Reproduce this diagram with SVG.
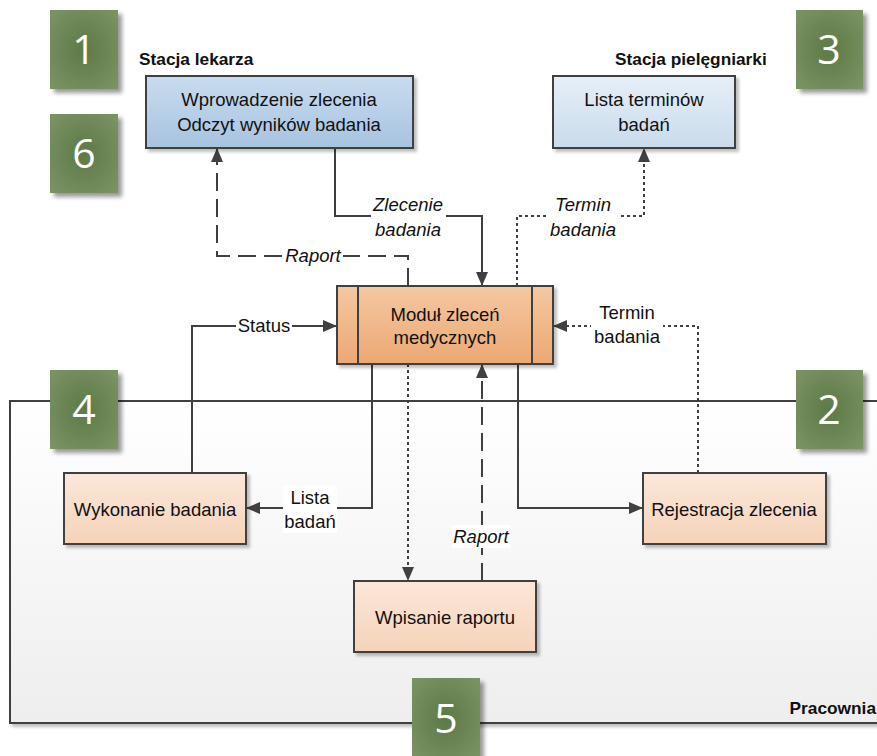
<svg xmlns="http://www.w3.org/2000/svg" width="877" height="756" viewBox="0 0 877 756">
  <style>
    text { font-family: "Liberation Sans", Arial, sans-serif; fill: #111; }
    .t { font-size: 18.5px; text-anchor: middle; }
    .it { font-size: 18.5px; font-style: italic; text-anchor: middle; }
    .title { font-size: 17.3px; font-weight: bold; }
    .num { font-family: "Open Sans", "Liberation Sans", sans-serif; font-size: 41px; fill: #fff; text-anchor: middle; }
    .box { stroke: #404040; stroke-width: 2; }
    .ln { fill: none; stroke: #404040; stroke-width: 2; }
    .dash { stroke-dasharray: 18 8; }
    .dot { stroke-dasharray: 3 3; }
    .bg { fill: #fff; }
  </style>
  <defs>
    <linearGradient id="gDoc" x1="0" y1="0" x2="0" y2="1">
      <stop offset="0" stop-color="#c9dcef"/>
      <stop offset="1" stop-color="#a7c3df"/>
    </linearGradient>
    <linearGradient id="gNurse" x1="0" y1="0" x2="0" y2="1">
      <stop offset="0" stop-color="#e6eff8"/>
      <stop offset="1" stop-color="#c9dbec"/>
    </linearGradient>
    <linearGradient id="gMain" x1="0" y1="0" x2="0" y2="1">
      <stop offset="0" stop-color="#f4c8a2"/>
      <stop offset="1" stop-color="#eca872"/>
    </linearGradient>
    <linearGradient id="gTask" x1="0" y1="0" x2="0" y2="1">
      <stop offset="0" stop-color="#fbe7d9"/>
      <stop offset="1" stop-color="#f5d3b9"/>
    </linearGradient>
    <linearGradient id="gArea" x1="0" y1="0" x2="0" y2="1">
      <stop offset="0" stop-color="#ffffff"/>
      <stop offset="1" stop-color="#eeeeee"/>
    </linearGradient>
    <radialGradient id="gBadge" cx="0.5" cy="0.5" r="0.7">
      <stop offset="0" stop-color="#5d7947"/>
      <stop offset="1" stop-color="#7b9563"/>
    </radialGradient>
    <filter id="sh" x="-10%" y="-10%" width="130%" height="140%">
      <feDropShadow dx="3" dy="3" stdDeviation="1.5" flood-color="#000" flood-opacity="0.25"/>
    </filter>
    <filter id="shB" x="-20%" y="-20%" width="150%" height="150%">
      <feDropShadow dx="4" dy="4" stdDeviation="2" flood-color="#000" flood-opacity="0.4"/>
    </filter>
    <marker id="arr" viewBox="0 0 14 12" refX="14" refY="6" markerWidth="14" markerHeight="12" markerUnits="userSpaceOnUse" orient="auto">
      <path d="M0,0 L14,6 L0,12 Z" fill="#404040"/>
    </marker>
  </defs>

  <!-- Lab area (Pracownia) -->
  <g id="pracownia">
    <rect x="10" y="401" width="900" height="322" fill="url(#gArea)" stroke="#404040" stroke-width="2" filter="url(#sh)"/>
    <text class="title" x="876" y="714" text-anchor="end">Pracownia</text>
  </g>

  <!-- Station titles -->
  <text class="title" x="139" y="65">Stacja lekarza</text>
  <text class="title" x="615" y="65">Stacja pielęgniarki</text>

  <!-- Connectors -->
  <g id="connectors">
    <!-- Zlecenie badania -->
    <path class="ln" d="M335,148 V216 H482 V286" marker-end="url(#arr)"/>
    <!-- Raport to doctor -->
    <path class="ln dash" d="M408,286 V256 H217 V148" marker-end="url(#arr)"/>
    <!-- Termin badania to nurse -->
    <path class="ln dot" d="M517,286 V216 H644 V148" marker-end="url(#arr)"/>
    <!-- Status -->
    <path class="ln" d="M192,473 V326 H337" marker-end="url(#arr)"/>
    <!-- Termin badania from registration -->
    <path class="ln dot" d="M698,473 V326 H553" marker-end="url(#arr)"/>
    <!-- Lista badań -->
    <path class="ln" d="M372,364 V508 H246" marker-end="url(#arr)"/>
    <!-- to registration -->
    <path class="ln" d="M518,364 V508 H643" marker-end="url(#arr)"/>
    <!-- to report entry -->
    <path class="ln dot" d="M408,364 V581" marker-end="url(#arr)"/>
    <!-- Raport from report entry -->
    <path class="ln dash" d="M482,581 V364" marker-end="url(#arr)"/>

    <!-- labels -->
    <rect class="bg" x="371" y="190" width="75" height="48"/>
    <text class="it" x="408" y="211">Zlecenie</text>
    <text class="it" x="408" y="236">badania</text>

    <rect class="bg" x="549" y="190" width="70" height="48"/>
    <text class="it" x="583" y="211">Termin</text>
    <text class="it" x="583" y="236">badania</text>

    <rect class="bg" x="283" y="245" width="60" height="22"/>
    <text class="it" x="313" y="262">Raport</text>

    <rect class="bg" x="236" y="315" width="56" height="22"/>
    <text class="t" x="264" y="332">Status</text>

    <rect class="bg" x="591" y="300" width="72" height="48"/>
    <text class="t" x="627" y="319">Termin</text>
    <text class="t" x="627" y="343">badania</text>

    <rect class="bg" x="283" y="485" width="54" height="48"/>
    <text class="t" x="310" y="504">Lista</text>
    <text class="t" x="310" y="528">badań</text>

    <rect class="bg" x="452" y="525" width="59" height="23"/>
    <text class="it" x="481" y="543">Raport</text>
  </g>

  <!-- Nodes -->
  <g id="node-lekarz">
    <rect class="box" x="146" y="76" width="267" height="72" fill="url(#gDoc)" filter="url(#sh)"/>
    <text class="t" x="279" y="106">Wprowadzenie zlecenia</text>
    <text class="t" x="279" y="131">Odczyt wyników badania</text>
  </g>
  <g id="node-pielegniarka">
    <rect class="box" x="553" y="76" width="182" height="72" fill="url(#gNurse)" filter="url(#sh)"/>
    <text class="t" x="644" y="106">Lista terminów</text>
    <text class="t" x="644" y="131">badań</text>
  </g>
  <g id="node-modul">
    <rect class="box" x="337" y="286" width="216" height="78" fill="url(#gMain)" filter="url(#sh)"/>
    <line class="ln" x1="358" y1="286" x2="358" y2="364"/>
    <line class="ln" x1="532" y1="286" x2="532" y2="364"/>
    <text class="t" x="445" y="321">Moduł zleceń</text>
    <text class="t" x="445" y="344">medycznych</text>
  </g>
  <g id="node-wykonanie">
    <rect class="box" x="64" y="473" width="182" height="71" fill="url(#gTask)" filter="url(#sh)"/>
    <text class="t" x="155" y="516">Wykonanie badania</text>
  </g>
  <g id="node-rejestracja">
    <rect class="box" x="643" y="473" width="183" height="71" fill="url(#gTask)" filter="url(#sh)"/>
    <text class="t" x="734" y="516">Rejestracja zlecenia</text>
  </g>
  <g id="node-raport">
    <rect class="box" x="354" y="581" width="182" height="71" fill="url(#gTask)" filter="url(#sh)"/>
    <text class="t" x="445" y="624">Wpisanie raportu</text>
  </g>

  <!-- Numbered badges -->
  <g id="badge-1"><rect x="50" y="10" width="68" height="79" fill="url(#gBadge)" filter="url(#shB)"/><text class="num" x="84" y="64">1</text></g>
  <g id="badge-6"><rect x="50" y="114" width="68" height="79" fill="url(#gBadge)" filter="url(#shB)"/><text class="num" x="84" y="168">6</text></g>
  <g id="badge-3"><rect x="796" y="10" width="67" height="79" fill="url(#gBadge)" filter="url(#shB)"/><text class="num" x="829" y="64">3</text></g>
  <g id="badge-4"><rect x="50" y="370" width="68" height="79" fill="url(#gBadge)" filter="url(#shB)"/><text class="num" x="84" y="424">4</text></g>
  <g id="badge-2"><rect x="796" y="370" width="67" height="79" fill="url(#gBadge)" filter="url(#shB)"/><text class="num" x="829" y="424">2</text></g>
  <g id="badge-5"><rect x="412" y="678" width="68" height="82" fill="url(#gBadge)" filter="url(#shB)"/><text class="num" x="446" y="733">5</text></g>
</svg>
